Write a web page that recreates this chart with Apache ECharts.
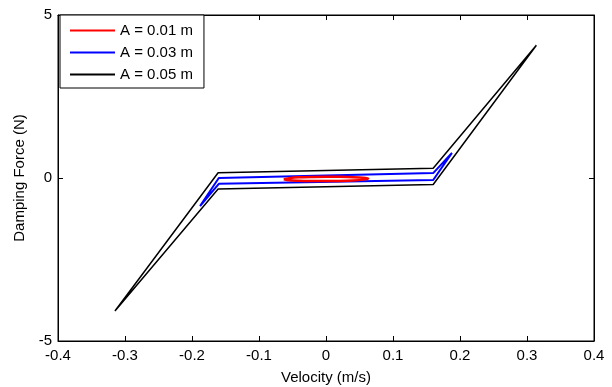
<!DOCTYPE html>
<html>
<head>
<meta charset="utf-8">
<script src="https://cdn.jsdelivr.net/npm/echarts@6/dist/echarts.min.js"></script>
<style>
  html, body { margin: 0; padding: 0; background: #fff; }
  #chart { width: 612px; height: 387px; }
</style>
</head>
<body>
<div id="chart"></div>
<script>
// loop vertices (velocity m/s, force N)
var names = ['A = 0.01 m', 'A = 0.03 m', 'A = 0.05 m']
var colors = ['#ff0000', '#0000ff', '#000000']

var redVel   = [-0.063, -0.055, -0.040, -0.020, 0.000, 0.020, 0.040, 0.055, 0.063, 0.055, 0.040, 0.020, 0.000, -0.020, -0.040, -0.055, -0.063]
var redForce = [-0.040, -0.005, 0.020, 0.030, 0.035, 0.035, 0.025, 0.010, -0.015, -0.050, -0.075, -0.090, -0.095, -0.095, -0.085, -0.070, -0.040]

var blueVel   = [-0.188, -0.160, 0.160, 0.188, 0.160, -0.160, -0.188]
var blueForce = [-0.86, 0.00, 0.15, 0.77, -0.06, -0.18, -0.86]

var blackVel   = [-0.315, -0.161, 0.160, 0.314, 0.160, -0.161, -0.315]
var blackForce = [-4.08, 0.16, 0.30, 4.07, -0.20, -0.34, -4.08]

var xTicks = [-0.4, 0.4, 0.1]
var yTicks = [-5, 5, 5]

function pairs(v, f) {
  var out = []
  for (var i = 0; i < v.length; i++) out.push([v[i], f[i]])
  return out
}

var font = 'Liberation Sans, Arial, Helvetica, sans-serif'
var chart = echarts.init(document.getElementById('chart'), null, { renderer: 'canvas' })

var axisCommon = {
  axisLine: { show: true, onZero: false, lineStyle: { color: '#000', width: 1 } },
  axisTick: { show: true, inside: true, length: 5, lineStyle: { color: '#000' } },
  splitLine: { show: false }
}

var option = {
  animation: false,
  backgroundColor: '#fff',
  grid: { left: 58, right: 18, top: 15, bottom: 46, outerBoundsMode: 'none', containLabel: false,
    show: true, borderColor: '#000', borderWidth: 1, backgroundColor: 'transparent' },
  legend: {
    orient: 'vertical', left: 60, top: 15,
    icon: 'rect', itemWidth: 45, itemHeight: 2, itemGap: 5,
    padding: [7, 11, 5, 10],
    backgroundColor: '#fff', borderColor: '#000', borderWidth: 1, borderRadius: 0,
    textStyle: { fontSize: 15, color: '#000', fontFamily: font, lineHeight: 17 },
    data: names
  },
  xAxis: [
    Object.assign({
      type: 'value', position: 'bottom', min: xTicks[0], max: xTicks[1], interval: xTicks[2],
      name: 'Velocity (m/s)', nameLocation: 'middle', nameGap: 29,
      nameTextStyle: { fontSize: 15, color: '#000', fontFamily: font },
      axisLabel: { fontSize: 15, color: '#000', fontFamily: font, margin: 7,
        formatter: function (v) { return v === 0 ? '0' : v.toFixed(1) } }
    }, axisCommon),
    Object.assign({
      type: 'value', position: 'top', min: xTicks[0], max: xTicks[1], interval: xTicks[2],
      axisLabel: { show: false }
    }, axisCommon)
  ],
  yAxis: [
    Object.assign({
      type: 'value', position: 'left', min: yTicks[0], max: yTicks[1], interval: yTicks[2],
      name: 'Damping Force (N)', nameLocation: 'middle', nameGap: 25,
      nameTextStyle: { fontSize: 15, color: '#000', fontFamily: font },
      axisLabel: { fontSize: 15, color: '#000', fontFamily: font, margin: 6 }
    }, axisCommon),
    Object.assign({
      type: 'value', position: 'right', min: yTicks[0], max: yTicks[1], interval: yTicks[2],
      axisLabel: { show: false }
    }, axisCommon)
  ],
  series: [
    { name: names[0], type: 'line', data: pairs(redVel, redForce), symbol: 'none', smooth: 0.3,
      lineStyle: { color: colors[0], width: 2.5 }, itemStyle: { color: colors[0] }, z: 4 },
    { name: names[1], type: 'line', data: pairs(blueVel, blueForce), symbol: 'none',
      lineStyle: { color: colors[1], width: 2 }, itemStyle: { color: colors[1] }, z: 3 },
    { name: names[2], type: 'line', data: pairs(blackVel, blackForce), symbol: 'none',
      lineStyle: { color: colors[2], width: 1.5 }, itemStyle: { color: colors[2] }, z: 2 }
  ]
}
chart.setOption(option)
</script>
</body>
</html>
